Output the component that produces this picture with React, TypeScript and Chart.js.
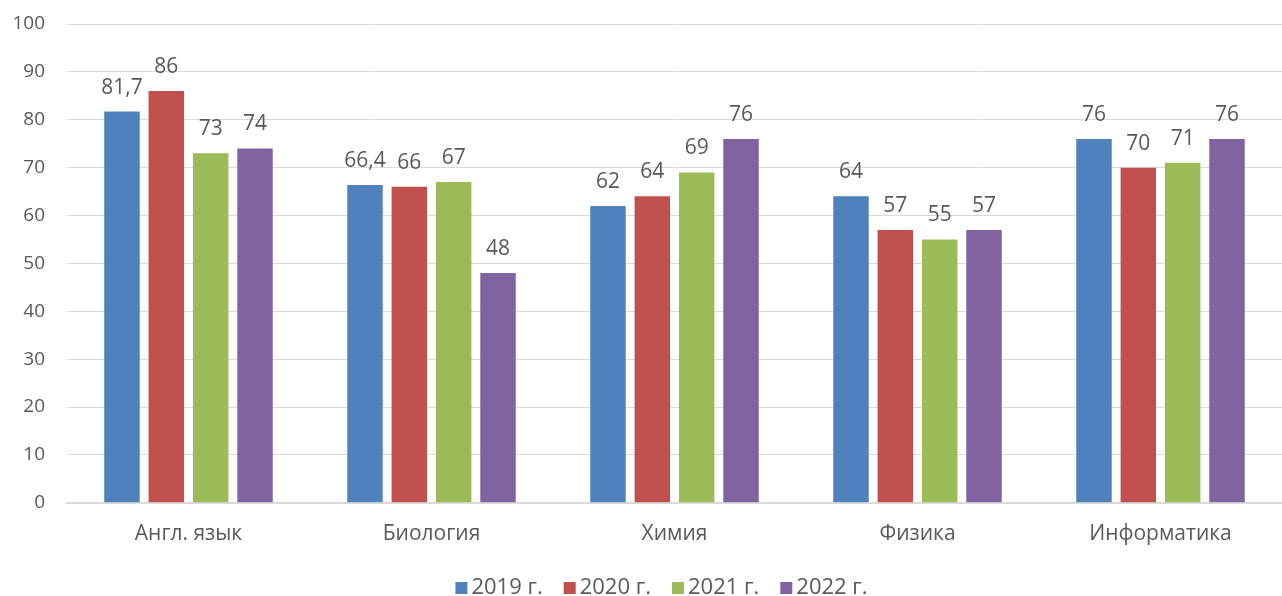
import React, { useEffect, useRef } from "react";
import { Chart, registerables } from "chart.js";

Chart.register(...registerables);

const categories = ["Англ. язык", "Биология", "Химия", "Физика", "Информатика"];
const seriesNames = ["2019 г.", "2020 г.", "2021 г.", "2022 г."];
const values2019 = [81.7, 66.4, 62, 64, 76];
const values2020 = [86, 66, 64, 57, 70];
const values2021 = [73, 67, 69, 55, 71];
const values2022 = [74, 48, 76, 57, 76];
const colors = ["#4F81BD", "#C0504D", "#9BBB59", "#8064A2"];
const yTicks = [0, 10, 20, 30, 40, 50, 60, 70, 80, 90, 100];

const FONT = "'Open Sans', 'Liberation Sans', sans-serif";
const TEXT = "#595959";

const labelPlugin = {
  id: "valueLabels",
  afterDatasetsDraw(chart: any) {
    const ctx = chart.ctx;
    ctx.save();
    ctx.font = `21px ${FONT}`;
    ctx.fillStyle = TEXT;
    ctx.textAlign = "center";
    ctx.textBaseline = "alphabetic";
    chart.data.datasets.forEach((ds: any, i: number) => {
      const meta = chart.getDatasetMeta(i);
      meta.data.forEach((el: any, j: number) => {
        const v = ds.data[j];
        const txt = String(v).replace(".", ",");
        ctx.fillText(txt, el.x, el.y - 18);
      });
    });
    ctx.restore();
  },
};

const legendPlugin = {
  id: "customLegend",
  afterDraw(chart: any) {
    const ctx = chart.ctx;
    ctx.save();
    ctx.font = `22px ${FONT}`;
    ctx.textBaseline = "middle";
    ctx.textAlign = "left";
    const box = 12;
    const gapBoxText = 4;
    const gapItems = 21;
    const items = chart.data.datasets.map((ds: any) => ({
      label: ds.label as string,
      color: ds.backgroundColor as string,
      w: ctx.measureText(ds.label).width,
    }));
    const total =
      items.reduce((s: number, it: any) => s + box + gapBoxText + it.w, 0) + gapItems * (items.length - 1);
    const cx = (chart.chartArea.left + chart.chartArea.right) / 2 - 13;
    const cy = 588;
    let x = cx - total / 2;
    items.forEach((it: any) => {
      ctx.fillStyle = it.color;
      ctx.fillRect(x, cy - box / 2, box, box);
      x += box + gapBoxText;
      ctx.fillStyle = TEXT;
      ctx.fillText(it.label, x, cy);
      x += it.w + gapItems;
    });
    ctx.restore();
  },
};

export default function App() {
  const ref = useRef<HTMLCanvasElement>(null);
  useEffect(() => {
    const all = [values2019, values2020, values2021, values2022];
    const chart = new Chart(ref.current!, {
      type: "bar",
      data: {
        labels: categories,
        datasets: all.map((d, i) => ({
          label: seriesNames[i],
          data: d,
          backgroundColor: colors[i],
          borderWidth: 0,
          categoryPercentage: 0.73,
          barPercentage: 0.8,
        })),
      },
      options: {
        animation: false,
        responsive: false,
        maintainAspectRatio: false,
        layout: { padding: { top: 24, right: 0, left: 0, bottom: 30 } },
        plugins: {
          legend: { display: false },
          tooltip: { enabled: false },
        },
        scales: {
          x: {
            grid: { display: false, drawTicks: false },
            border: { display: true, color: "#D9D9D9", width: 2 },
            ticks: { color: TEXT, font: { family: FONT, size: 21 }, padding: 19 },
          },
          y: {
            min: 0,
            max: 100,
            afterFit: (s: any) => { s.width = 67; },
            afterBuildTicks: (s: any) => { s.ticks = yTicks.map((v) => ({ value: v })); },
            grid: { color: "#D9D9D9", drawTicks: true, tickLength: 22, tickColor: "rgba(0,0,0,0)" },
            border: { display: false },
            ticks: { color: TEXT, font: { family: FONT, size: 19 }, padding: 0 },
          },
        },
      },
      plugins: [labelPlugin, legendPlugin],
    });
    return () => chart.destroy();
  }, []);
  return (
    <div style={{ position: "fixed", left: 0, top: 0, width: 1282, height: 596, background: "#fff" }}>
      <canvas ref={ref} width={1282} height={596} style={{ width: 1282, height: 596 }} />
    </div>
  );
}
